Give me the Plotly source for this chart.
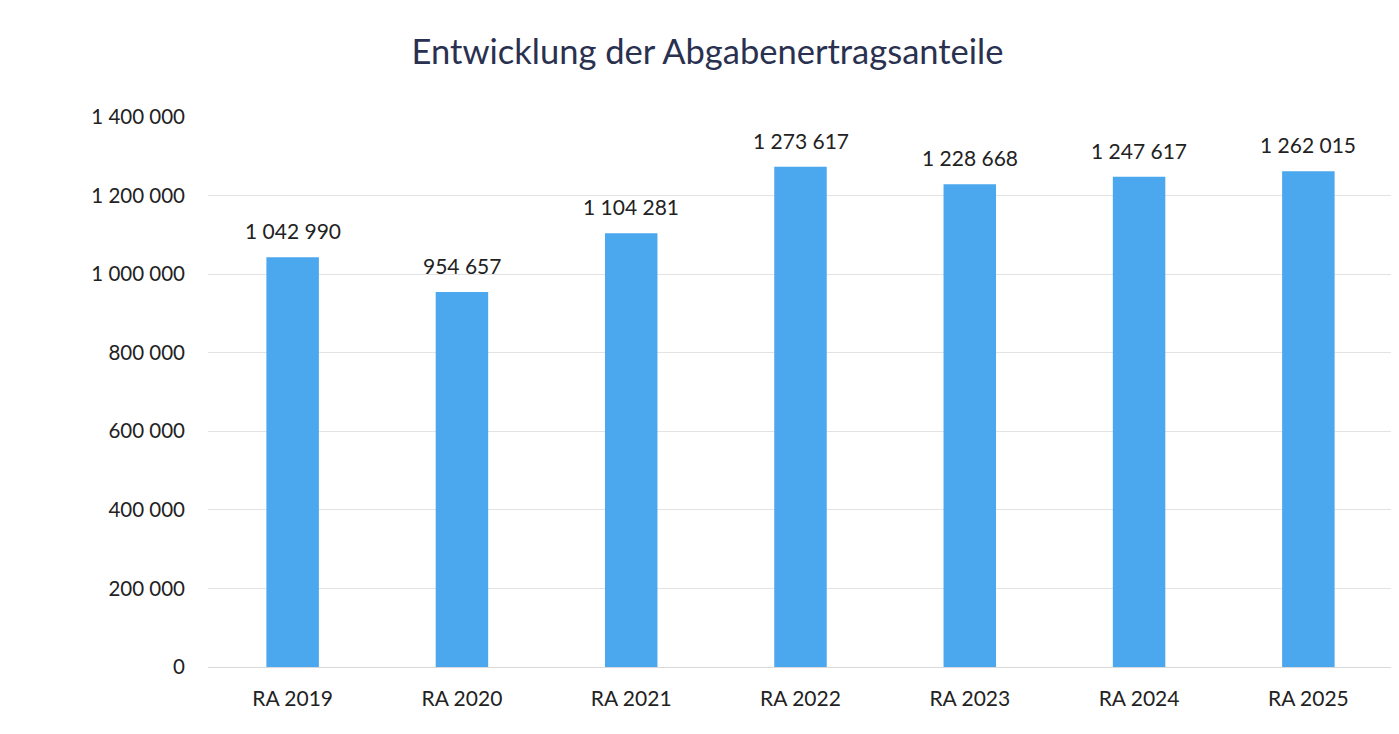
import plotly.graph_objects as go

categories = ["RA 2019", "RA 2020", "RA 2021", "RA 2022", "RA 2023", "RA 2024", "RA 2025"]
values = [1042990, 954657, 1104281, 1273617, 1228668, 1247617, 1262015]
tick_vals = [0, 200000, 400000, 600000, 800000, 1000000, 1200000, 1400000]
tick_text = ["0", "200 000", "400 000", "600 000", "800 000", "1 000 000", "1 200 000", "1 400 000"]
title = "Entwicklung der Abgabenertragsanteile"

font_family = "Lato, 'Open Sans', sans-serif"


def fmt(v):
    return f"{v:,d}".replace(",", " ")


fig = go.Figure(go.Bar(
    x=categories,
    y=values,
    marker=dict(color="#4BA7EE", line=dict(width=0)),
    hovertemplate="%{x}: %{y:,d}<extra></extra>",
))

for c, v in zip(categories, values):
    fig.add_annotation(x=c, y=v, text=fmt(v), showarrow=False,
                       yanchor="bottom", yshift=12,
                       font=dict(family=font_family, size=21, color="#222222"))

fig.update_layout(
    width=1399, height=734,
    separators=", ",
    paper_bgcolor="white", plot_bgcolor="white",
    margin=dict(l=200, r=14, t=109, b=75),
    bargap=0.69,
    showlegend=False,
    title=dict(text=title, x=0.5, xanchor="center", y=1 - 44/734, yanchor="middle",
               font=dict(family=font_family, size=34.5, color="#2A3150")),
    font=dict(family=font_family, size=20, color="#222222"),
)
fig.update_xaxes(showgrid=False, showline=False, ticks="", automargin=False,
                 ticklabelstandoff=17,
                 tickfont=dict(size=21, color="#222222"))
fig.update_yaxes(range=[0, 1400000], tickvals=tick_vals, ticktext=tick_text,
                 showgrid=True, gridcolor="#E3E3E3", gridwidth=1,
                 zeroline=True, zerolinecolor="#D9D9D9", zerolinewidth=1,
                 showline=False, ticks="", ticklabelstandoff=22, automargin=False,
                 tickfont=dict(size=20.5, color="#222222"))

fig.write_html("out.html")
